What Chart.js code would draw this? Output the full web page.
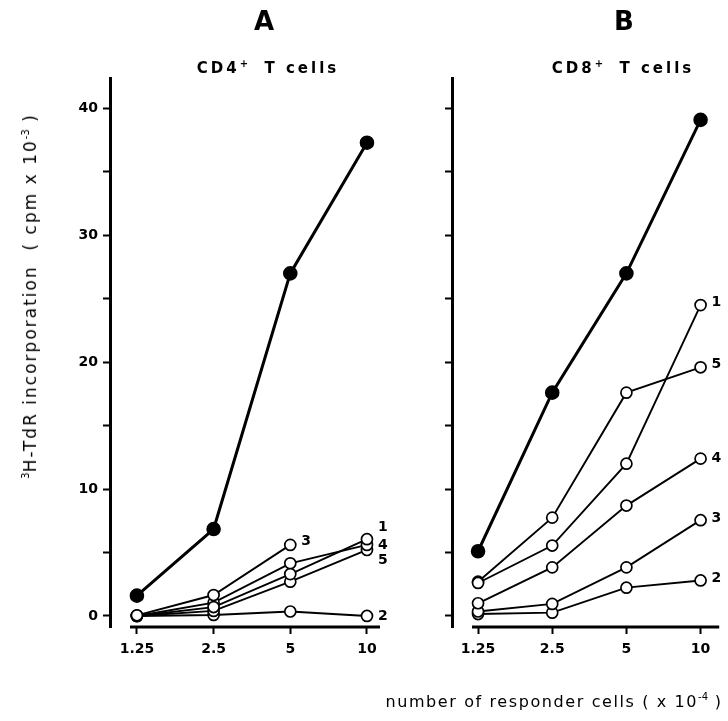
<!DOCTYPE html>
<html>
<head>
<meta charset="utf-8">
<script src="https://cdn.jsdelivr.net/npm/chart.js@4/dist/chart.umd.min.js"></script>
<style>
  body { margin: 0; background: #fff; }
  #wrap { position: relative; width: 728px; height: 721px; overflow: hidden; font-family: "DejaVu Sans", sans-serif; color: #000; }
  canvas { position: absolute; top: 0; }
  .txt { position: absolute; white-space: nowrap; transform: translate(-50%, -50%); }
  .panel { font-size: 26px; font-weight: bold; }
  .sub { font-size: 15px; letter-spacing: 3px; font-weight: bold; }
  .sub sup, .axt sup { font-size: 10px; letter-spacing: 0; }
  .axt { font-size: 16px; letter-spacing: 1.6px; }
  .axt.yt { font-size: 17px; letter-spacing: 2px; }
</style>
</head>
<body>
<div id="wrap">
  <canvas id="chartA" width="400" height="721" style="left:0"></canvas>
  <canvas id="chartB" width="328" height="721" style="left:400px"></canvas>
  <div class="txt panel" style="left:264px; top:21px">A</div>
  <div class="txt panel" style="left:624px; top:21px">B</div>
  <div class="txt sub" style="left:268px; top:67px">CD4<sup>+</sup>&nbsp; T cells</div>
  <div class="txt sub" style="left:623px; top:67px">CD8<sup>+</sup>&nbsp; T cells</div>
  <div class="txt axt yt" style="left:30px; top:296px; transform: translate(-50%, -50%) rotate(-90deg)"><sup>3</sup>H-TdR incorporation &nbsp;( cpm x 10<sup>-3</sup> )</div>
  <div class="txt axt" style="left:554px; top:701px">number of responder cells ( x 10<sup>-4</sup> )</div>
</div>
<script>
// responder cell numbers (x 10^-4)
var doses = [1.25, 2.5, 5, 10];
var yTicks = [0, 5, 10, 15, 20, 25, 30, 35, 40];

// CD4+ responders, 3H-TdR incorporation (cpm x 10^-3)
var cd4Total = [1.6, 6.85, 27.0, 37.3];
var cd4Line1 = [0, 0.7, 3.3, 6.05];
var cd4Line2 = [0, 0.08, 0.35, 0];
var cd4Line3 = [0.05, 1.65, 5.6];
var cd4Line4 = [0, 1.05, 4.15, 5.6];
var cd4Line5 = [0, 0.4, 2.7, 5.2];

// CD8+ responders
var cd8Total = [5.1, 17.6, 27.0, 39.1];
var cd8Line1 = [2.6, 5.55, 12.0, 24.5];
var cd8Line2 = [0.15, 0.26, 2.23, 2.8];
var cd8Line3 = [0.35, 0.95, 3.83, 7.55];
var cd8Line4 = [1.0, 3.83, 8.7, 12.4];
var cd8Line5 = [2.7, 7.75, 17.6, 19.6];

function pts(values) {
    return values.map(function (v, i) { return { x: doses[i], y: v }; });
}

function openSeries(tag, values, tagDy) {
    return {
        tag: tag,
        tagDy: tagDy || 0,
        data: pts(values),
        borderColor: '#000',
        borderWidth: 1.9,
        pointRadius: 5.5,
        pointBorderWidth: 1.7,
        pointBackgroundColor: '#fff',
        pointBorderColor: '#000',
        tension: 0
    };
}

function filledSeries(values) {
    return {
        data: pts(values),
        borderColor: '#000',
        borderWidth: 3,
        pointRadius: 5.8,
        pointBackgroundColor: '#000',
        pointBorderColor: '#000',
        tension: 0
    };
}

// x axis line that stops short of the y axis
var baseline = {
    id: 'baseline',
    afterDraw: function (chart) {
        var a = chart.chartArea, c = chart.ctx;
        c.save();
        c.strokeStyle = '#000';
        c.lineWidth = 3;
        c.beginPath();
        c.moveTo(a.left + 20, a.bottom);
        c.lineTo(a.right, a.bottom);
        c.stroke();
        c.restore();
    }
};

// series numbers next to the last point
var endTags = {
    id: 'endTags',
    afterDatasetsDraw: function (chart) {
        var c = chart.ctx;
        c.save();
        c.fillStyle = '#000';
        c.font = 'bold 14px "DejaVu Sans"';
        c.textBaseline = 'middle';
        chart.data.datasets.forEach(function (ds, i) {
            if (!ds.tag) return;
            var el = chart.getDatasetMeta(i).data;
            var p = el[el.length - 1];
            c.fillText(ds.tag, p.x + 11, p.y + ds.tagDy);
        });
        c.restore();
    }
};

function makeChart(id, datasets, xMax, axisWidth, showLabels, padRight) {
    return new Chart(document.getElementById(id), {
        type: 'line',
        data: { datasets: datasets },
        plugins: [baseline, endTags],
        options: {
            responsive: false,
            animation: false,
            clip: false,
            layout: { padding: { top: 78, right: padRight, left: 0, bottom: 0 } },
            plugins: { legend: { display: false }, tooltip: { enabled: false } },
            scales: {
                x: {
                    type: 'logarithmic',
                    min: 0.98,
                    max: xMax,
                    afterBuildTicks: function (s) { s.ticks = doses.map(function (v) { return { value: v }; }); },
                    afterFit: function (s) { s.height = 94; },
                    border: { display: false },
                    grid: { drawOnChartArea: false, drawTicks: true, tickLength: 7, tickWidth: 2, tickColor: '#000' },
                    ticks: {
                        autoSkip: false,
                        maxRotation: 0,
                        padding: 7,
                        color: '#000',
                        font: { family: 'DejaVu Sans', size: 14, weight: 'bold' },
                        callback: function (v) { return String(v); }
                    }
                },
                y: {
                    min: -0.87,
                    max: 42.4,
                    afterBuildTicks: function (s) { s.ticks = yTicks.map(function (v) { return { value: v }; }); },
                    afterFit: function (s) { s.width = axisWidth; },
                    border: { display: true, width: 3, color: '#000' },
                    grid: { drawOnChartArea: false, drawTicks: true, tickLength: 7, tickWidth: 2, tickColor: '#000' },
                    ticks: {
                        padding: 5,
                        color: '#000',
                        font: { family: 'DejaVu Sans', size: 14, weight: 'bold' },
                        callback: function (v) { return showLabels && v % 10 === 0 ? String(v) : ''; }
                    }
                }
            }
        }
    });
}

makeChart('chartA', [
    filledSeries(cd4Total),
    openSeries('3', cd4Line3, -4),
    openSeries('1', cd4Line1, -12),
    openSeries('4', cd4Line4, 0),
    openSeries('5', cd4Line5, 10),
    openSeries('2', cd4Line2, 0)
], 11.25, 110, true, 20);

makeChart('chartB', [
    filledSeries(cd8Total),
    openSeries('1', cd8Line1, -3),
    openSeries('5', cd8Line5, -3),
    openSeries('4', cd8Line4, 0),
    openSeries('3', cd8Line3, -2),
    openSeries('2', cd8Line2, -2)
], 11.9, 52, false, 0);
</script>
</body>
</html>
